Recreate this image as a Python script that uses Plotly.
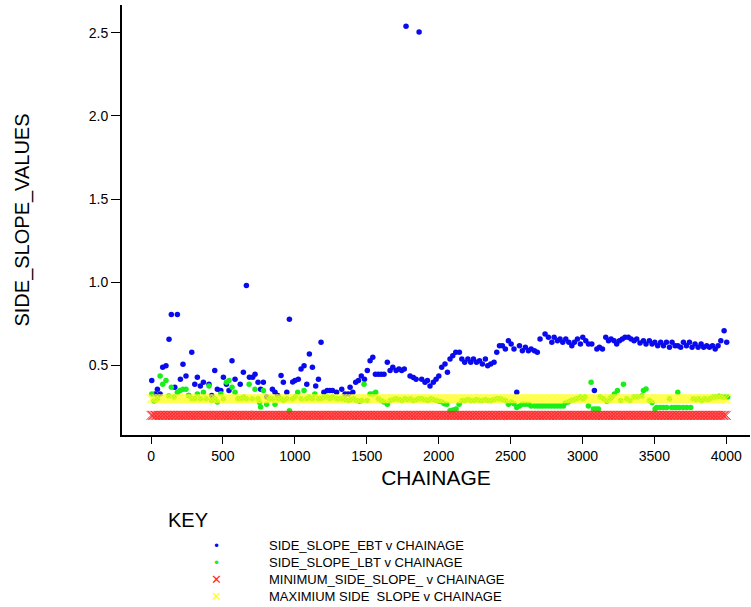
import plotly.graph_objects as go

# ---------------- data ----------------
EBT_CHAINAGE = [5, 28, 44, 63, 81, 104, 125, 141, 165, 183, 204, 222, 243, 262, 283, 304, 322, 343, 364,
                403, 422, 443, 461, 485, 503, 524, 542, 563, 584, 620, 642, 663, 684, 707, 723, 744, 762,
                781, 804, 844, 862, 881, 904, 920, 944, 962, 985, 1001, 1024, 1043, 1064, 1083, 1101, 1122,
                1145, 1164, 1182, 1202, 1225, 1243, 1262, 1290, 1326, 1349, 1372, 1384, 1403, 1423, 1442,
                1462, 1484, 1504, 1523, 1542, 1560, 1580, 1600, 1620, 1643, 1662, 1681, 1704, 1724, 1743,
                1761, 1773, 1801, 1824, 1843, 1864, 1882, 1905, 1922, 1940, 1963, 1982, 2001, 2021, 2044,
                2061, 2079, 2098, 2119, 2144, 2161, 2181, 2203, 2223, 2242, 2263, 2284, 2304, 2325, 2341,
                2362, 2385, 2404, 2423, 2443, 2464, 2485, 2504, 2524, 2543, 2562, 2582, 2603, 2624, 2643,
                2666, 2686, 2705, 2740, 2763, 2787, 2803, 2826, 2844, 2863, 2884, 2905, 2926, 2944, 2965,
                2986, 3002, 3023, 3042, 3065, 3083, 3100, 3118, 3139, 3162, 3181, 3199, 3220, 3238, 3257,
                3277, 3296, 3319, 3338, 3359, 3377, 3400, 3424, 3442, 3465, 3484, 3503, 3523, 3544, 3563,
                3584, 3605, 3623, 3644, 3663, 3683, 3702, 3723, 3744, 3762, 3783, 3804, 3825, 3843, 3864,
                3883, 3904, 3923, 3943, 3962, 3985, 4003]
EBT_VALUES = [0.409, 0.329, 0.357, 0.329, 0.489, 0.499, 0.657, 0.807, 0.369, 0.807, 0.417, 0.507, 0.437,
              0.320, 0.579, 0.387, 0.429, 0.377, 0.399, 0.387, 0.320, 0.469, 0.357, 0.349, 0.429, 0.387,
              0.349, 0.529, 0.417, 0.387, 0.459, 0.980, 0.429, 0.429, 0.447, 0.399, 0.357, 0.399, 0.310,
              0.357, 0.339, 0.320, 0.439, 0.399, 0.339, 0.778, 0.400, 0.410, 0.417, 0.479, 0.499, 0.387,
              0.569, 0.489, 0.377, 0.417, 0.639, 0.339, 0.349, 0.349, 0.349, 0.339, 0.357, 0.329, 0.329,
              0.369, 0.339, 0.399, 0.409, 0.437, 0.417, 0.469, 0.529, 0.549, 0.447, 0.447, 0.447, 0.447,
              0.519, 0.469, 0.489, 0.469, 0.479, 0.469, 0.479, 2.540, 0.437, 0.427, 0.417, 2.505, 0.417,
              0.399, 0.409, 0.377, 0.399, 0.417, 0.437, 0.489, 0.509, 0.459, 0.539, 0.559, 0.579, 0.579,
              0.539, 0.519, 0.539, 0.519, 0.539, 0.519, 0.529, 0.509, 0.539, 0.499, 0.509, 0.519, 0.579,
              0.619, 0.619, 0.599, 0.649, 0.629, 0.599, 0.339, 0.619, 0.589, 0.609, 0.589, 0.599, 0.589,
              0.579, 0.659, 0.689, 0.669, 0.639, 0.669, 0.649, 0.659, 0.639, 0.659, 0.639, 0.619, 0.639,
              0.659, 0.629, 0.669, 0.649, 0.629, 0.629, 0.349, 0.599, 0.609, 0.599, 0.669, 0.649, 0.659,
              0.649, 0.629, 0.649, 0.659, 0.669, 0.669, 0.659, 0.649, 0.659, 0.635, 0.649, 0.629, 0.649,
              0.629, 0.639, 0.619, 0.639, 0.619, 0.639, 0.609, 0.639, 0.619, 0.619, 0.609, 0.639, 0.619,
              0.639, 0.609, 0.629, 0.609, 0.629, 0.609, 0.619, 0.609, 0.619, 0.599, 0.619, 0.649, 0.709,
              0.639]

LBT_CHAINAGE = [5, 21, 44, 63, 81, 104, 123, 141, 160, 183, 202, 222, 243, 262, 283, 304, 322, 343, 364,
                383, 403, 422, 443, 461, 485, 503, 524, 542, 563, 584, 605, 626, 645, 663, 682, 703, 723,
                744, 755, 762, 781, 804, 823, 844, 862, 883, 904, 920, 944, 962, 985, 1001, 1020, 1043,
                1064, 1083, 1101, 1122, 1139, 1164, 1182, 1202, 1225, 1243, 1262, 1290, 1305, 1326, 1349,
                1372, 1390, 1410, 1430, 1450, 1465, 1481, 1503, 1523, 1542, 1562, 1580, 1600, 1620, 1643,
                1662, 1684, 1704, 1724, 1744, 1764, 1784, 1804, 1824, 1844, 1864, 1884, 1904, 1924, 1944,
                1964, 1984, 2004, 2024, 2040, 2057, 2079, 2100, 2121, 2142, 2164, 2184, 2204, 2224, 2244,
                2264, 2284, 2304, 2324, 2344, 2364, 2384, 2404, 2424, 2444, 2464, 2485, 2504, 2524, 2543,
                2562, 2582, 2603, 2624, 2643, 2666, 2686, 2705, 2725, 2745, 2765, 2785, 2805, 2825, 2845,
                2867, 2880, 2900, 2920, 2940, 2960, 2983, 3002, 3018, 3041, 3060, 3076, 3094, 3111, 3123,
                3146, 3169, 3192, 3204, 3222, 3243, 3266, 3285, 3308, 3331, 3359, 3382, 3412, 3424, 3442,
                3465, 3484, 3505, 3516, 3540, 3563, 3586, 3605, 3620, 3640, 3655, 3663, 3674, 3700, 3725,
                3753, 3770, 3790, 3810, 3830, 3850, 3870, 3887, 3910, 3930, 3950, 3970, 3990, 4010]
LBT_VALUES = [0.329, 0.287, 0.300, 0.437, 0.387, 0.409, 0.317, 0.369, 0.310, 0.339, 0.349, 0.357, 0.357,
              0.320, 0.300, 0.300, 0.329, 0.300, 0.339, 0.300, 0.377, 0.290, 0.300, 0.280, 0.330, 0.300,
              0.399, 0.409, 0.369, 0.339, 0.300, 0.300, 0.310, 0.300, 0.387, 0.300, 0.357, 0.300, 0.277,
              0.250, 0.349, 0.267, 0.300, 0.300, 0.267, 0.300, 0.300, 0.290, 0.300, 0.228, 0.300, 0.310,
              0.339, 0.300, 0.349, 0.300, 0.310, 0.300, 0.329, 0.300, 0.300, 0.310, 0.310, 0.300, 0.310,
              0.300, 0.300, 0.300, 0.295, 0.290, 0.295, 0.300, 0.290, 0.285, 0.290, 0.387, 0.290, 0.329,
              0.329, 0.339, 0.300, 0.290, 0.280, 0.267, 0.290, 0.295, 0.300, 0.295, 0.290, 0.300, 0.295,
              0.300, 0.290, 0.295, 0.300, 0.300, 0.295, 0.290, 0.300, 0.295, 0.290, 0.285, 0.280, 0.270,
              0.267, 0.228, 0.233, 0.238, 0.267, 0.290, 0.290, 0.295, 0.290, 0.290, 0.295, 0.290, 0.290,
              0.295, 0.290, 0.290, 0.295, 0.300, 0.300, 0.295, 0.290, 0.267, 0.280, 0.270, 0.248, 0.257,
              0.267, 0.267, 0.267, 0.257, 0.257, 0.257, 0.257, 0.257, 0.257, 0.257, 0.257, 0.257, 0.257,
              0.257, 0.257, 0.275, 0.280, 0.290, 0.295, 0.300, 0.310, 0.300, 0.310, 0.257, 0.399, 0.238,
              0.238, 0.238, 0.310, 0.300, 0.285, 0.300, 0.310, 0.329, 0.349, 0.290, 0.387, 0.300, 0.290,
              0.310, 0.310, 0.317, 0.349, 0.359, 0.290, 0.277, 0.238, 0.248, 0.248, 0.248, 0.248, 0.300,
              0.248, 0.248, 0.248, 0.339, 0.248, 0.248, 0.248, 0.248, 0.300, 0.295, 0.300, 0.290, 0.300,
              0.295, 0.300, 0.310, 0.310, 0.315, 0.310, 0.310, 0.310]

LIMIT_CHAINAGE = list(range(0, 4001, 10))
MIN_SIDE_SLOPE = 0.2
MAX_SIDE_SLOPE = 0.3

X_TICKS = [0, 500, 1000, 1500, 2000, 2500, 3000, 3500, 4000]
Y_TICKS = [0.5, 1.0, 1.5, 2.0, 2.5]
Y_TICK_TEXT = ["0.5", "1.0", "1.5", "2.0", "2.5"]

SERIES_NAMES = ["SIDE_SLOPE_EBT v CHAINAGE", "SIDE_SLOPE_LBT v CHAINAGE",
                "MINIMUM_SIDE_SLOPE_ v CHAINAGE", "MAXIMIUM SIDE  SLOPE v CHAINAGE"]

BLUE = "#0a0aee"
GREEN = "#19ee19"
RED = "#ff2a2a"
YELLOW = "#ffff1a"
FONT = "Liberation Sans, Arial, sans-serif"

# ---------------- figure ----------------
fig = go.Figure()
fig.add_trace(go.Scatter(x=EBT_CHAINAGE, y=EBT_VALUES, mode="markers", name=SERIES_NAMES[0],
                         marker=dict(symbol="circle", size=5.5, color=BLUE), showlegend=False))
fig.add_trace(go.Scatter(x=LBT_CHAINAGE, y=LBT_VALUES, mode="markers", name=SERIES_NAMES[1],
                         marker=dict(symbol="circle", size=5.5, color=GREEN), showlegend=False))
fig.add_trace(go.Scatter(x=LIMIT_CHAINAGE, y=[MIN_SIDE_SLOPE] * len(LIMIT_CHAINAGE), mode="markers",
                         name=SERIES_NAMES[2], showlegend=False,
                         marker=dict(symbol="x-thin", size=9, color=RED, line=dict(width=1, color=RED))))
fig.add_trace(go.Scatter(x=LIMIT_CHAINAGE, y=[MAX_SIDE_SLOPE] * len(LIMIT_CHAINAGE), mode="markers",
                         name=SERIES_NAMES[3], showlegend=False, opacity=0.85,
                         marker=dict(symbol="x-thin", size=9, color=YELLOW, line=dict(width=1, color=YELLOW))))

W, H = 751, 607
ML, MR, MT, MB = 122, 1, 5, 172
PW, PH = W - ML - MR, H - MT - MB


def px_x(px):
    return (px - ML) / PW


def px_y(py):
    return (H - MB - py) / PH


SYMBOL_COLORS = [BLUE, GREEN, RED, YELLOW]
SYMBOL_CHARS = ["•", "•", "✕", "✕"]
symbol_text = "<br>".join(
    f"<span style='color:{c}'>{ch}</span>" for ch, c in zip(SYMBOL_CHARS, SYMBOL_COLORS))

annotations = [
    dict(text="KEY", x=px_x(166), y=px_y(520), xref="paper", yref="paper",
         xanchor="left", yanchor="middle", showarrow=False,
         font=dict(family=FONT, size=20, color="black")),
    dict(text="<br>".join(SERIES_NAMES), x=px_x(268), y=px_y(571), xref="paper", yref="paper",
         xanchor="left", yanchor="middle", align="left", showarrow=False, borderpad=0,
         font=dict(family=FONT, size=13, color="black")),
    dict(text=symbol_text, x=px_x(216), y=px_y(571), xref="paper", yref="paper",
         xanchor="center", yanchor="middle", align="center", showarrow=False, borderpad=0,
         font=dict(family=FONT, size=13, color="black")),
]

fig.update_layout(
    width=W, height=H,
    margin=dict(l=ML, r=MR, t=MT, b=MB, pad=0),
    paper_bgcolor="white", plot_bgcolor="white",
    font=dict(family=FONT, color="black"),
    annotations=annotations,
    showlegend=False,
    xaxis=dict(range=[-202, 4165], tickvals=X_TICKS, ticks="outside", ticklen=7, tickwidth=1,
               tickcolor="black", showline=True, linecolor="black", linewidth=2, showgrid=False,
               zeroline=False, tickfont=dict(size=14, family=FONT),
               title=dict(text="CHAINAGE", font=dict(size=21, family=FONT), standoff=8)),
    yaxis=dict(range=[0.082, 2.667], tickvals=Y_TICKS, ticktext=Y_TICK_TEXT, ticks="outside",
               ticklen=9, tickwidth=1, tickcolor="black", showline=True, linecolor="black",
               linewidth=2, showgrid=False, zeroline=False, tickfont=dict(size=14, family=FONT),
               title=dict(text="SIDE_SLOPE_VALUES", font=dict(size=20, family=FONT), standoff=54)),
)

fig.write_html("out.html")
